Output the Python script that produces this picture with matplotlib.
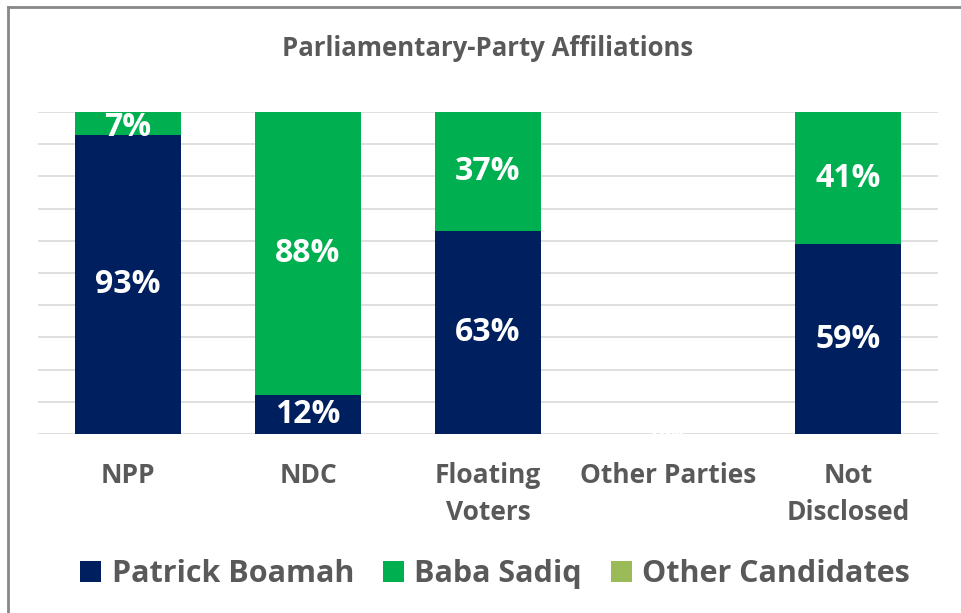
import numpy as np
import matplotlib.pyplot as plt
from matplotlib.lines import Line2D

# chart data
categories = ['NPP', 'NDC', 'Floating\nVoters', 'Other Parties', 'Not\nDisclosed']
patrick = [93, 12, 63, 0, 59]
baba = [7, 88, 37, 0, 41]
other = [0, 0, 0, 0, 0]
series_names = ['Patrick Boamah', 'Baba Sadiq', 'Other Candidates']

colors = ['#001F5F', '#00B050', '#9BBB59']
gray = '#595959'
font = 'Open Sans'

W, H = 961, 613
fig = plt.figure(figsize=(W / 100, H / 100), dpi=100)
ax = fig.add_axes([38 / W, 1 - 434 / H, 900 / W, 322 / H])

x = np.arange(len(categories))
bw = 0.59
b1 = ax.bar(x, patrick, bw, color=colors[0], label=series_names[0], zorder=2)
b2 = ax.bar(x, baba, bw, bottom=patrick, color=colors[1], label=series_names[1], zorder=2)
bottom3 = np.array(patrick) + np.array(baba)
b3 = ax.bar(x, other, bw, bottom=bottom3, color=colors[2], label=series_names[2], zorder=2)

# value labels
for i in range(len(categories)):
    if patrick[i] + baba[i] == 0:
        ax.text(x[i], 0, '0%', color='white', ha='center', va='center',
                fontsize=16, fontweight='bold', family=font, zorder=3)
        continue
    ax.text(x[i], patrick[i] / 2, f'{patrick[i]}%', color='white', ha='center',
            va='center', fontsize=23, fontweight='bold', family=font, zorder=3)
    yb = patrick[i] + baba[i] / 2
    if baba[i] < 10:
        yb -= 1.3  # thin segment: label sits a bit lower
    ax.text(x[i], yb, f'{baba[i]}%', color='white', ha='center',
            va='center', fontsize=23, fontweight='bold', family=font, zorder=3)

ax.set_xlim(-0.5, len(categories) - 0.5)
ax.set_ylim(0, 100)
ax.set_yticks(np.arange(0, 101, 10))
ax.yaxis.grid(True, color='#D9D9D9', linewidth=1.2, zorder=0)
ax.tick_params(axis='y', left=False, labelleft=False)
ax.tick_params(axis='x', bottom=False, pad=17)
ax.set_xticks(x)
ax.set_xticklabels(categories, fontsize=19, fontweight='bold', color=gray,
                   family=font, linespacing=1.45, va='top')
for s in ax.spines.values():
    s.set_visible(False)

fig.text(488 / W, 1 - 48 / H, 'Parliamentary-Party Affiliations', ha='center',
         va='center', fontsize=18.5, fontweight='bold', color=gray, family=font)

leg = fig.legend(handles=[b1, b2, b3], loc='center', bbox_to_anchor=(495 / W, 1 - 574 / H),
                 ncol=3, frameon=False, handlelength=0.68, handleheight=0.68,
                 handletextpad=0.34, columnspacing=0.95,
                 prop={'family': font, 'weight': 'bold', 'size': 22})
for t in leg.get_texts():
    t.set_color(gray)

# chart border (left and top visible)
fig.add_artist(Line2D([8 / W, 8 / W], [0, 1 - 7 / H], color='#888888', lw=2))
fig.add_artist(Line2D([8 / W, 1], [1 - 7 / H, 1 - 7 / H], color='#888888', lw=2))

fig.savefig('out.png', dpi=100)
